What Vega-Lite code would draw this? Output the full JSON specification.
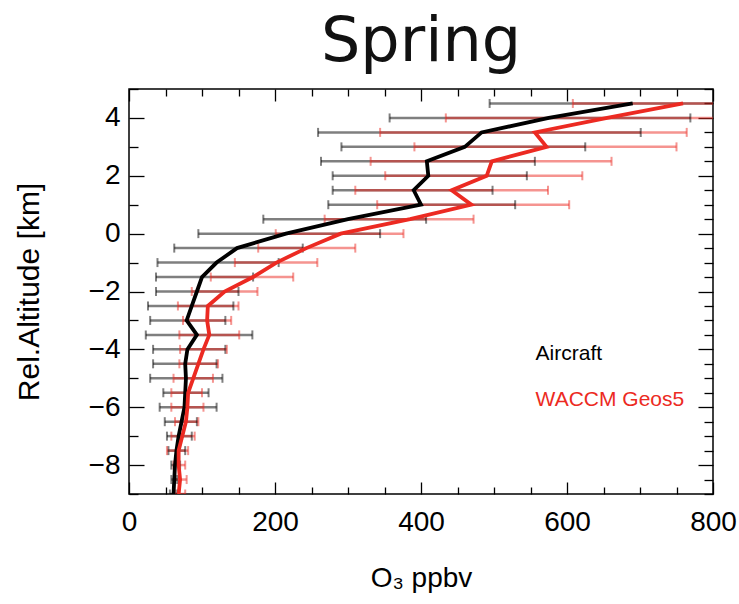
{
  "$schema": "https://vega.github.io/schema/vega-lite/v6.json",
  "autosize": "none",
  "width": 584,
  "height": 405,
  "padding": {"left": 129, "top": 89, "right": 26, "bottom": 110},
  "background": "white",
  "title": {"text": "Spring", "font": "DejaVu Sans", "fontSize": 62, "fontWeight": "normal", "color": "#111111", "anchor": "middle", "offset": 14},
  "config": {
    "view": {"stroke": "#000000", "strokeWidth": 1.5},
    "axis": {"grid": false, "domain": false, "tickColor": "#000000", "tickWidth": 1.3, "labelFont": "Liberation Sans", "titleFont": "Liberation Sans", "labelColor": "#000000", "titleColor": "#000000", "titleFontWeight": "normal", "labelFlush": false}
  },
  "datasets": {
    "profiles": [
      {"series": "Aircraft", "alt": 4.5, "mean": 690, "lo": 494, "hi": 886},
      {"series": "Aircraft", "alt": 4.0, "mean": 575, "lo": 357, "hi": 769},
      {"series": "Aircraft", "alt": 3.5, "mean": 483, "lo": 259, "hi": 701},
      {"series": "Aircraft", "alt": 3.0, "mean": 460, "lo": 291, "hi": 625},
      {"series": "Aircraft", "alt": 2.5, "mean": 408, "lo": 263, "hi": 556},
      {"series": "Aircraft", "alt": 2.0, "mean": 410, "lo": 279, "hi": 545},
      {"series": "Aircraft", "alt": 1.5, "mean": 390, "lo": 279, "hi": 498},
      {"series": "Aircraft", "alt": 1.0, "mean": 400, "lo": 273, "hi": 529},
      {"series": "Aircraft", "alt": 0.5, "mean": 300, "lo": 184, "hi": 407},
      {"series": "Aircraft", "alt": 0.0, "mean": 215, "lo": 95, "hi": 344},
      {"series": "Aircraft", "alt": -0.5, "mean": 148, "lo": 62, "hi": 238},
      {"series": "Aircraft", "alt": -1.0, "mean": 120, "lo": 39, "hi": 205},
      {"series": "Aircraft", "alt": -1.5, "mean": 100, "lo": 37, "hi": 170},
      {"series": "Aircraft", "alt": -2.0, "mean": 93, "lo": 37, "hi": 150},
      {"series": "Aircraft", "alt": -2.5, "mean": 86, "lo": 26, "hi": 143},
      {"series": "Aircraft", "alt": -3.0, "mean": 79, "lo": 29, "hi": 132},
      {"series": "Aircraft", "alt": -3.5, "mean": 93, "lo": 23, "hi": 169},
      {"series": "Aircraft", "alt": -4.0, "mean": 80, "lo": 33, "hi": 132},
      {"series": "Aircraft", "alt": -4.5, "mean": 77, "lo": 33, "hi": 120},
      {"series": "Aircraft", "alt": -5.0, "mean": 78, "lo": 29, "hi": 128},
      {"series": "Aircraft", "alt": -5.5, "mean": 77, "lo": 47, "hi": 109},
      {"series": "Aircraft", "alt": -6.0, "mean": 76, "lo": 42, "hi": 120},
      {"series": "Aircraft", "alt": -6.5, "mean": 72, "lo": 49, "hi": 93},
      {"series": "Aircraft", "alt": -7.0, "mean": 68, "lo": 52, "hi": 86},
      {"series": "Aircraft", "alt": -7.5, "mean": 65, "lo": 54, "hi": 77},
      {"series": "Aircraft", "alt": -8.0, "mean": 63, "lo": 58, "hi": 70},
      {"series": "Aircraft", "alt": -8.5, "mean": 62, "lo": 58, "hi": 66},
      {"series": "Aircraft", "alt": -9.0, "mean": 61, "lo": 56, "hi": 66},
      {"series": "WACCM Geos5", "alt": 4.5, "mean": 759, "lo": 608, "hi": 910},
      {"series": "WACCM Geos5", "alt": 4.0, "mean": 655, "lo": 434, "hi": 876},
      {"series": "WACCM Geos5", "alt": 3.5, "mean": 556, "lo": 344, "hi": 764},
      {"series": "WACCM Geos5", "alt": 3.0, "mean": 572, "lo": 391, "hi": 750},
      {"series": "WACCM Geos5", "alt": 2.5, "mean": 497, "lo": 331, "hi": 661},
      {"series": "WACCM Geos5", "alt": 2.0, "mean": 490, "lo": 351, "hi": 621},
      {"series": "WACCM Geos5", "alt": 1.5, "mean": 442, "lo": 310, "hi": 574},
      {"series": "WACCM Geos5", "alt": 1.0, "mean": 469, "lo": 340, "hi": 603},
      {"series": "WACCM Geos5", "alt": 0.5, "mean": 385, "lo": 268, "hi": 472},
      {"series": "WACCM Geos5", "alt": 0.0, "mean": 290, "lo": 201, "hi": 376},
      {"series": "WACCM Geos5", "alt": -0.5, "mean": 243, "lo": 177, "hi": 310},
      {"series": "WACCM Geos5", "alt": -1.0, "mean": 202, "lo": 145, "hi": 258},
      {"series": "WACCM Geos5", "alt": -1.5, "mean": 170, "lo": 112, "hi": 225},
      {"series": "WACCM Geos5", "alt": -2.0, "mean": 131, "lo": 86, "hi": 176},
      {"series": "WACCM Geos5", "alt": -2.5, "mean": 108, "lo": 67, "hi": 150},
      {"series": "WACCM Geos5", "alt": -3.0, "mean": 107, "lo": 74, "hi": 140},
      {"series": "WACCM Geos5", "alt": -3.5, "mean": 110, "lo": 69, "hi": 151},
      {"series": "WACCM Geos5", "alt": -4.0, "mean": 102, "lo": 70, "hi": 134},
      {"series": "WACCM Geos5", "alt": -4.5, "mean": 95, "lo": 69, "hi": 122},
      {"series": "WACCM Geos5", "alt": -5.0, "mean": 88, "lo": 61, "hi": 115},
      {"series": "WACCM Geos5", "alt": -5.5, "mean": 81, "lo": 58, "hi": 100},
      {"series": "WACCM Geos5", "alt": -6.0, "mean": 80, "lo": 58, "hi": 102},
      {"series": "WACCM Geos5", "alt": -6.5, "mean": 78, "lo": 63, "hi": 95},
      {"series": "WACCM Geos5", "alt": -7.0, "mean": 73, "lo": 58, "hi": 90},
      {"series": "WACCM Geos5", "alt": -7.5, "mean": 68, "lo": 52, "hi": 81},
      {"series": "WACCM Geos5", "alt": -8.0, "mean": 68, "lo": 61, "hi": 77},
      {"series": "WACCM Geos5", "alt": -8.5, "mean": 70, "lo": 62, "hi": 79},
      {"series": "WACCM Geos5", "alt": -9.0, "mean": 68, "lo": 63, "hi": 77}
    ],
    "legendText": [
      {"series": "Aircraft", "x": 557, "alt": -4.15},
      {"series": "WACCM Geos5", "x": 557, "alt": -5.75}
    ]
  },
  "resolve": {"axis": {"x": "independent", "y": "independent"}},
  "layer": [
    {
      "data": {"name": "profiles"},
      "mark": {"type": "rule", "strokeWidth": 2.5, "opacity": 0.5, "clip": true},
      "encoding": {
        "x": {"field": "lo", "type": "quantitative", "scale": {"domain": [0, 800], "nice": false, "zero": false},
          "title": "O₃ ppbv",
          "axis": {"orient": "bottom", "values": [0,50,100,150,200,250,300,350,400,450,500,550,600,650,700,750,800], "format": "d",
            "labelExpr": "datum.value % 200 === 0 ? datum.label : ''",
            "tickSize": {"condition": {"test": "datum.value % 200 === 0", "value": -12}, "value": -7},
            "labelPadding": 26, "labelFontSize": 28, "titleFontSize": 28, "titlePadding": 28}},
        "x2": {"field": "hi"},
        "y": {"field": "alt", "type": "quantitative", "scale": {"domain": [-9, 5], "nice": false, "zero": false},
          "title": "Rel.Altitude [km]",
          "axis": {"orient": "left", "values": [-9,-8.5,-8,-7.5,-7,-6.5,-6,-5.5,-5,-4.5,-4,-3.5,-3,-2.5,-2,-1.5,-1,-0.5,0,0.5,1,1.5,2,2.5,3,3.5,4,4.5,5], "format": "d",
            "labelExpr": "datum.value % 2 === 0 ? datum.label : ''",
            "tickSize": {"condition": {"test": "datum.value % 2 === 0", "value": -15}, "value": -9},
            "labelPadding": 24, "labelFontSize": 28, "titleFontSize": 30, "titlePadding": 44}},
        "color": {"field": "series", "type": "nominal", "scale": {"domain": ["Aircraft", "WACCM Geos5"], "range": ["#000000", "#ec2a22"]}, "legend": null}
      }
    },
    {
      "data": {"name": "profiles"},
      "mark": {"type": "tick", "orient": "vertical", "size": 9, "thickness": 2, "opacity": 0.5, "clip": true},
      "encoding": {
        "x": {"field": "lo", "type": "quantitative", "scale": {"domain": [0, 800]}, "axis": null},
        "y": {"field": "alt", "type": "quantitative", "scale": {"domain": [-9, 5]}, "axis": null},
        "color": {"field": "series", "type": "nominal", "legend": null}
      }
    },
    {
      "data": {"name": "profiles"},
      "mark": {"type": "tick", "orient": "vertical", "size": 9, "thickness": 2, "opacity": 0.5, "clip": true},
      "encoding": {
        "x": {"field": "hi", "type": "quantitative", "scale": {"domain": [0, 800]}, "axis": null},
        "y": {"field": "alt", "type": "quantitative", "scale": {"domain": [-9, 5]}, "axis": null},
        "color": {"field": "series", "type": "nominal", "legend": null}
      }
    },
    {
      "mark": {"type": "rule", "color": "#000000", "strokeWidth": 1.5},
      "encoding": {"y": {"datum": 0, "type": "quantitative", "scale": {"domain": [-9, 5]}, "axis": null}}
    },
    {
      "data": {"name": "profiles"},
      "mark": {"type": "line", "strokeWidth": 3.8, "clip": true},
      "encoding": {
        "x": {"field": "mean", "type": "quantitative", "scale": {"domain": [0, 800]}, "title": null,
          "axis": {"orient": "top", "values": [0,50,100,150,200,250,300,350,400,450,500,550,600,650,700,750,800], "labels": false,
            "tickSize": {"condition": {"test": "datum.value % 200 === 0", "value": -12}, "value": -7}}},
        "y": {"field": "alt", "type": "quantitative", "scale": {"domain": [-9, 5]}, "title": null,
          "axis": {"orient": "right", "values": [-9,-8.5,-8,-7.5,-7,-6.5,-6,-5.5,-5,-4.5,-4,-3.5,-3,-2.5,-2,-1.5,-1,-0.5,0,0.5,1,1.5,2,2.5,3,3.5,4,4.5,5], "labels": false,
            "tickSize": {"condition": {"test": "datum.value % 2 === 0", "value": -15}, "value": -9}}},
        "order": {"field": "alt", "type": "quantitative"},
        "color": {"field": "series", "type": "nominal", "legend": null}
      }
    },
    {
      "data": {"name": "legendText"},
      "mark": {"type": "text", "align": "left", "baseline": "middle", "font": "Liberation Sans", "fontSize": 21},
      "encoding": {
        "x": {"field": "x", "type": "quantitative", "scale": {"domain": [0, 800]}, "axis": null},
        "y": {"field": "alt", "type": "quantitative", "scale": {"domain": [-9, 5]}, "axis": null},
        "text": {"field": "series"},
        "color": {"field": "series", "type": "nominal", "legend": null}
      }
    }
  ]
}
